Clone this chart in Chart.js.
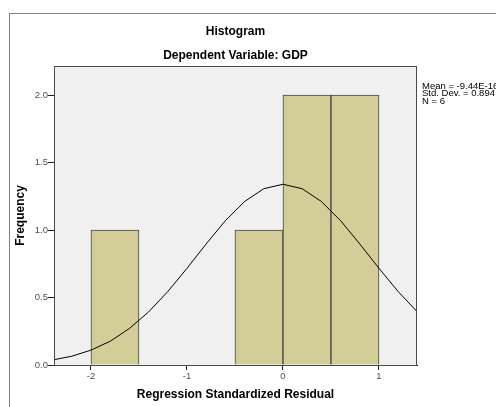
<!DOCTYPE html>
<html>
<head>
<meta charset="utf-8">
<script src="https://cdn.jsdelivr.net/npm/chart.js@4.4.1/dist/chart.umd.min.js"></script>
<style>
  html, body { margin: 0; padding: 0; background: #ffffff; }
  #wrap { width: 496px; height: 407px; position: relative; }
</style>
</head>
<body>
<div id="wrap"><canvas id="c" width="496" height="407"></canvas></div>
<script>
// ---- Data ----
const binCenters = [-1.75, -0.25, 0.25, 0.75];
const binCounts  = [1, 1, 2, 2];
const binWidth = 0.5;
const curveX = [-2.4, -2.2, -2.0, -1.8, -1.6, -1.4, -1.2, -1.0, -0.8, -0.6, -0.4, -0.2, 0.0, 0.2, 0.4, 0.6, 0.8, 1.0, 1.2, 1.4];
const curveY = [0.037, 0.065, 0.110, 0.176, 0.270, 0.393, 0.544, 0.716, 0.897, 1.069, 1.211, 1.306, 1.339, 1.306, 1.211, 1.069, 0.897, 0.716, 0.544, 0.393];
const xTicks = [-2, -1, 0, 1];
const yTicks = [0.0, 0.5, 1.0, 1.5, 2.0];
const titleText = "Histogram";
const subtitleText = "Dependent Variable: GDP";
const xTitle = "Regression Standardized Residual";
const yTitle = "Frequency";
const statsLines = ["Mean = -9.44E-16", "Std. Dev. = 0.894", "N = 6"];

const FONT = "'Liberation Sans', Arial, sans-serif";

const decor = {
  id: 'decor',
  beforeDraw(chart) {
    const ctx = chart.ctx;
    const a = chart.chartArea;
    ctx.save();
    ctx.fillStyle = '#ffffff';
    ctx.fillRect(0, 0, chart.width, chart.height);
    ctx.strokeStyle = '#808080';
    ctx.lineWidth = 1;
    ctx.strokeRect(9.5, 13.5, 600, 600);
    ctx.fillStyle = '#f0f0f0';
    ctx.fillRect(a.left, a.top, a.right - a.left, a.bottom - a.top);
    ctx.restore();
  },
  afterDraw(chart) {
    const ctx = chart.ctx;
    const a = chart.chartArea;
    ctx.save();
    ctx.strokeStyle = '#4a4a4a';
    ctx.lineWidth = 1;
    ctx.strokeRect(a.left + 0.5, a.top + 0.5, a.right - a.left - 1, a.bottom - a.top);
    const cx = (a.left + a.right) / 2;
    ctx.fillStyle = '#000000';
    ctx.textAlign = 'center';
    ctx.textBaseline = 'middle';
    ctx.font = 'bold 12px ' + FONT;
    ctx.fillText(titleText, cx, 32);
    ctx.fillText(subtitleText, cx, 56);
    ctx.font = '9.5px ' + FONT;
    ctx.textAlign = 'left';
    statsLines.forEach((t, i) => ctx.fillText(t, a.right + 5, 86 + i * 7.5));
    ctx.restore();
  }
};

new Chart(document.getElementById('c'), {
  data: {
    datasets: [
      {
        type: 'line',
        data: curveX.map((x, i) => ({ x: x, y: curveY[i] })),
        borderColor: '#000000',
        borderWidth: 1,
        pointRadius: 0,
        tension: 0,
        fill: false,
        order: 0
      },
      {
        type: 'bar',
        data: binCenters.map((x, i) => ({ x: x, y: binCounts[i] })),
        backgroundColor: '#d3ce98',
        borderColor: '#454545',
        borderWidth: 1,
        barPercentage: 1.0,
        categoryPercentage: 1.0,
        order: 1
      }
    ]
  },
  options: {
    responsive: false,
    animation: false,
    events: [],
    layout: { padding: { left: 9, top: 66, right: 79, bottom: 0 } },
    plugins: { legend: { display: false }, tooltip: { enabled: false } },
    scales: {
      x: {
        type: 'linear',
        offset: false,
        min: -2.385,
        max: 1.396,
        afterFit(s) { s.height = 42; },
        afterBuildTicks(s) { s.ticks = xTicks.map(v => ({ value: v })); },
        ticks: { font: { family: FONT, size: 9.5 }, color: '#505050', padding: 1, maxRotation: 0, callback: v => String(v) },
        grid: { offset: false, drawOnChartArea: false, drawTicks: true, tickLength: 5, color: '#222' },
        border: { display: true, color: '#222' },
        title: { display: true, text: xTitle, font: { family: FONT, size: 12, weight: 'bold' }, color: '#000', padding: { top: 0, bottom: 5 } }
      },
      y: {
        min: 0,
        max: 2.215,
        afterFit(s) { s.width = 45; },
        afterBuildTicks(s) { s.ticks = yTicks.map(v => ({ value: v })); },
        ticks: { font: { family: FONT, size: 9.5 }, color: '#505050', padding: 0, callback: v => v.toFixed(1) },
        grid: { drawOnChartArea: false, drawTicks: true, tickLength: 6, color: '#222' },
        border: { display: true, color: '#222' },
        title: { display: true, text: yTitle, font: { family: FONT, size: 12, weight: 'bold' }, color: '#000', padding: { top: 4, bottom: 0 } }
      }
    }
  },
  plugins: [decor]
});
</script>
</body>
</html>
